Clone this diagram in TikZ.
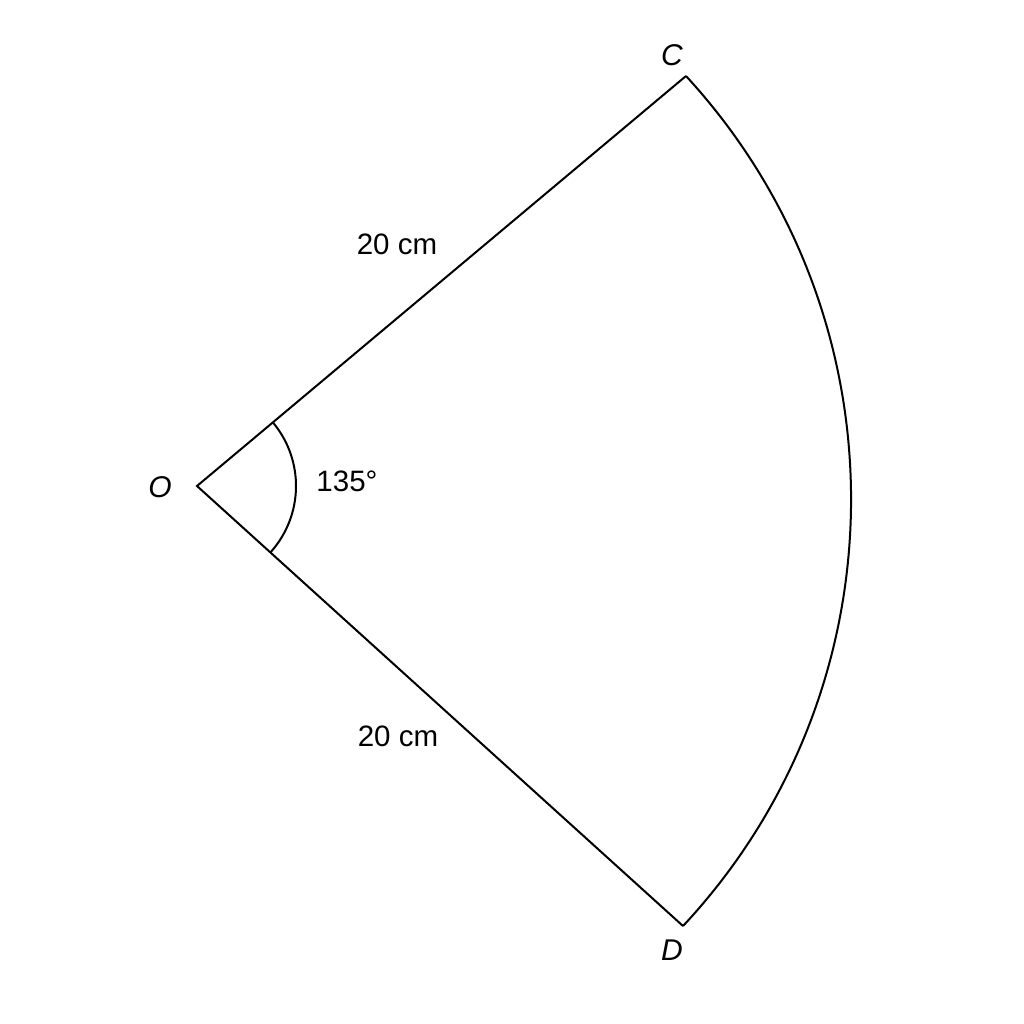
\documentclass[tikz,border=0pt]{standalone}
\usepackage{fontspec}
\setmainfont{Liberation Sans}
\usetikzlibrary{calc}
\begin{document}
\begin{tikzpicture}[x=1pt,y=-1pt,
  edge/.style={line width=2pt,line join=miter},
  lbl/.style={font=\fontsize{29.5}{34}\selectfont,inner sep=0pt},
  pt/.style={font=\fontsize{30}{35}\selectfont\itshape,inner sep=0pt}]
\useasboundingbox (0,0) rectangle (1024,1024);
\coordinate (O) at (197,486);
\coordinate (C) at (686,76);
\coordinate (D) at (683,926);
\draw[edge] (C) -- (O) -- (D);
\draw[edge] (C) arc[start angle=-42.6,end angle=43.0,radius=625.5];
\draw[line width=2pt] ($(O)+(-40:99)$) arc[start angle=-40,end angle=42.2,radius=99];
\node[pt] (lO) at (160,487) {O};
\node[pt] (lC) at (672,55) {C};
\node[pt] (lD) at (672,950) {D};
\node[lbl] (lOC) at (397,244) {20 cm};
\node[lbl] (lOD) at (398,736) {20 cm};
\node[lbl] (ang) at (347,481) {135°};
\end{tikzpicture}
\end{document}
